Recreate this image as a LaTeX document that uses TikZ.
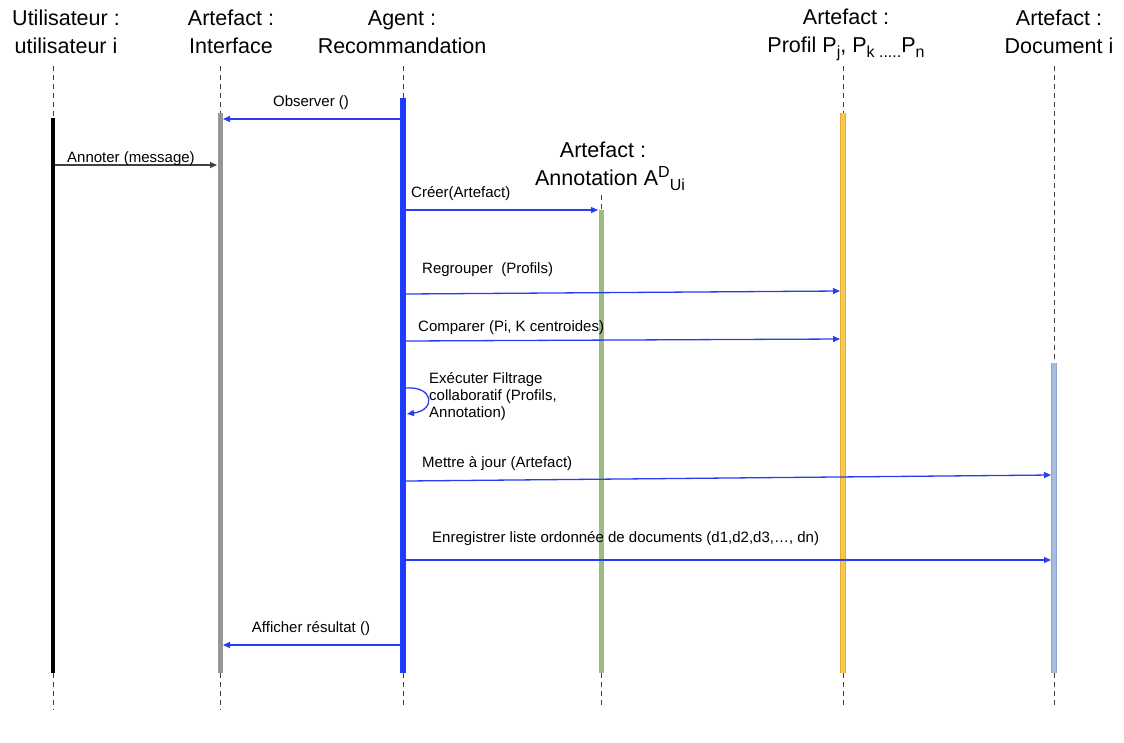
\documentclass[tikz,border=0pt]{standalone}
\usepackage{fontspec}
\setmainfont{Liberation Sans}
\usetikzlibrary{arrows.meta}
\definecolor{agentblue}{RGB}{30,60,255}
\definecolor{msgblue}{RGB}{40,60,245}
\definecolor{bargray}{RGB}{150,150,150}
\definecolor{bargreen}{RGB}{155,187,128}
\definecolor{baryellow}{RGB}{246,201,74}
\definecolor{barorange}{RGB}{232,168,58}
\definecolor{barlblue}{RGB}{167,189,224}
\definecolor{barlblueb}{RGB}{140,166,212}
\definecolor{dashgray}{RGB}{60,60,60}
\newcommand{\mysub}[1]{\smash{\raisebox{-0.22em}{\fontsize{16}{16}\selectfont #1}}}
\newcommand{\mysup}[1]{\smash{\raisebox{0.4em}{\fontsize{16}{16}\selectfont #1}}}
\tikzset{
  header/.style={align=center,inner sep=0pt,font=\fontsize{21.5}{28}\selectfont},
  lbl/.style={inner sep=0pt,font=\fontsize{15}{17}\selectfont},
  life/.style={dashgray,line width=1pt,dash pattern=on 5pt off 4pt},
  bar/.style={line width=#1},
  msg/.style={msgblue,line width=1.3pt,-{Triangle[length=7pt,width=6pt]}},
  graymsg/.style={black!75,line width=1.2pt,-{Triangle[length=7pt,width=6pt]}},
}
\begin{document}
\begin{tikzpicture}[x=1pt,y=-1pt]
\useasboundingbox (0,0) rectangle (1124,742);
% headers
\node[header] (hU) at (66,32) {Utilisateur :\\utilisateur i};
\node[header] (hI) at (231,32) {Artefact :\\Interface};
\node[header] (hA) at (402,32) {Agent :\\Recommandation};
\node[header] (hP) at (846,32) {Artefact :\\Profil P\mysub{j}, P\mysub{k .....}P\mysub{n}};
\node[header] (hD) at (1059,32) {Artefact :\\Document i};
\node[header] (hN) at (610,164) {\hspace*{-14pt}Artefact :\\Annotation A\mysup{D}\mysub{Ui}};
% lifeline coordinates
\coordinate (uT) at (53,66); \coordinate (uB1) at (53,118); \coordinate (uB2) at (53,673); \coordinate (uE) at (53,710);
\coordinate (iT) at (220,66); \coordinate (iB1) at (220,113); \coordinate (iB2) at (220,673); \coordinate (iE) at (220,710);
\coordinate (aT) at (403,66); \coordinate (aB1) at (403,98); \coordinate (aB2) at (403,673); \coordinate (aE) at (403,708);
\coordinate (nT) at (601,195); \coordinate (nB1) at (601,210); \coordinate (nB2) at (601,673); \coordinate (nE) at (601,707);
\coordinate (pT) at (843,66); \coordinate (pB1) at (843,113); \coordinate (pB2) at (843,673); \coordinate (pE) at (843,708);
\coordinate (dT) at (1054,66); \coordinate (dB1) at (1054,363); \coordinate (dB2) at (1054,673); \coordinate (dE) at (1054,708);
% dashed lifelines
\foreach \l in {u,i,a,n,p,d}{
  \draw[life] (\l T) -- (\l B1);
  \draw[life] (\l B2) -- (\l E);
}
% activation bars
\draw[bar=4pt,black] (uB1) -- (uB2);
\draw[bar=5pt,bargray] (iB1) -- (iB2);
\draw[bar=6pt,agentblue] (aB1) -- (aB2);
\draw[bar=5pt,bargreen] (nB1) -- (nB2);
\draw[bar=5.5pt,barorange] (pB1) -- (pB2);
\draw[bar=3.5pt,baryellow] (pB1) -- (pB2);
\draw[bar=5.5pt,barlblueb] (dB1) -- (dB2);
\draw[bar=3.5pt,barlblue] (dB1) -- (dB2);
% message endpoints
\coordinate (m1s) at (400,119); \coordinate (m1e) at (223,119);
\coordinate (m2s) at (55,165); \coordinate (m2e) at (217,165);
\coordinate (m3s) at (406,210); \coordinate (m3e) at (598,210);
\coordinate (m4s) at (406,294); \coordinate (m4e) at (840,291);
\coordinate (m5s) at (406,341); \coordinate (m5e) at (840,339);
\coordinate (m6s) at (406,388); \coordinate (m6e) at (407,414);
\coordinate (m7s) at (406,481); \coordinate (m7e) at (1051,475);
\coordinate (m8s) at (406,560); \coordinate (m8e) at (1051,560);
\coordinate (m9s) at (400,645); \coordinate (m9e) at (223,645);
% messages
\draw[msg] (m1s) -- (m1e);
\draw[graymsg] (m2s) -- (m2e);
\draw[msg] (m3s) -- (m3e);
\draw[msg] (m4s) -- (m4e);
\draw[msg] (m5s) -- (m5e);
\draw[msg] (m6s) .. controls (434,386) and (436,410) .. (m6e);
\draw[msg] (m7s) -- (m7e);
\draw[msg] (m8s) -- (m8e);
\draw[msg] (m9s) -- (m9e);
% labels
\node[lbl,anchor=base] (l1) at (311,106) {Observer ()};
\node[lbl,anchor=base west] (l2) at (67,162) {Annoter (message)};
\node[lbl,anchor=base west] (l3) at (411,197) {Créer(Artefact)};
\node[lbl,anchor=base west] (l4) at (422,273) {Regrouper\ \ (Profils)};
\node[lbl,anchor=base west] (l5) at (418,331) {Comparer (Pi, K centroides)};
\node[lbl,anchor=north west,align=left] (l6) at (429,372) {Exécuter Filtrage\\collaboratif (Profils,\\Annotation)};
\node[lbl,anchor=base west] (l7) at (422,467) {Mettre à jour (Artefact)};
\node[lbl,anchor=base west] (l8) at (432,542) {Enregistrer liste ordonnée de documents (d1,d2,d3,…, dn)};
\node[lbl,anchor=base] (l9) at (311,632) {Afficher résultat ()};
\end{tikzpicture}
\end{document}
